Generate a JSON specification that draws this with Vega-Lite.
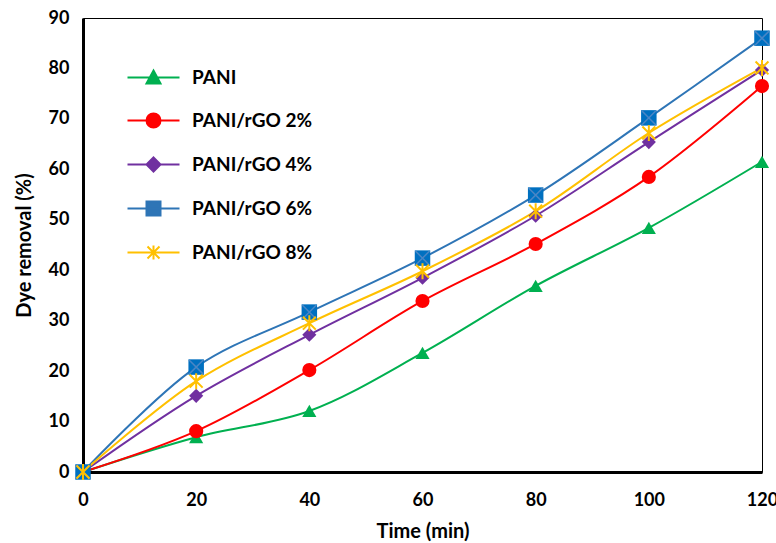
{
  "$schema": "https://vega.github.io/schema/vega-lite/v6.json",
  "width": 679,
  "height": 454,
  "autosize": {"type": "none"},
  "padding": {"left": 83, "top": 18, "right": 14, "bottom": 71},
  "background": "white",
  "config": {
    "view": {"stroke": "black", "strokeWidth": 1},
    "font": "Lato",
    "axis": {"grid": false, "ticks": false, "labelFlush": false, "domainColor": "black", "domainWidth": 3, "labelFont": "Lato", "labelFontWeight": "bold", "labelFontSize": 18, "labelColor": "black", "titleFont": "Lato", "titleFontWeight": "bold", "titleFontSize": 20, "titleColor": "black"},
    "legend": {"orient": "none", "legendX": 61, "legendY": 50, "symbolSize": 4, "symbolStrokeWidth": 2, "symbolOpacity": 1, "labelOffset": 29, "rowPadding": 21, "labelFont": "Lato", "labelFontSize": 19, "labelFontWeight": "bold", "labelColor": "black"}
  },
  "data": {"values": [
    {"t": 0, "s": "PANI", "v": 0}, {"t": 20, "s": "PANI", "v": 6.9}, {"t": 40, "s": "PANI", "v": 12.1}, {"t": 60, "s": "PANI", "v": 23.6}, {"t": 80, "s": "PANI", "v": 36.9}, {"t": 100, "s": "PANI", "v": 48.4}, {"t": 120, "s": "PANI", "v": 61.5},
    {"t": 0, "s": "PANI/rGO 2%", "v": 0}, {"t": 20, "s": "PANI/rGO 2%", "v": 8.1}, {"t": 40, "s": "PANI/rGO 2%", "v": 20.2}, {"t": 60, "s": "PANI/rGO 2%", "v": 33.9}, {"t": 80, "s": "PANI/rGO 2%", "v": 45.2}, {"t": 100, "s": "PANI/rGO 2%", "v": 58.5}, {"t": 120, "s": "PANI/rGO 2%", "v": 76.5},
    {"t": 0, "s": "PANI/rGO 4%", "v": 0}, {"t": 20, "s": "PANI/rGO 4%", "v": 15.1}, {"t": 40, "s": "PANI/rGO 4%", "v": 27.2}, {"t": 60, "s": "PANI/rGO 4%", "v": 38.5}, {"t": 80, "s": "PANI/rGO 4%", "v": 50.8}, {"t": 100, "s": "PANI/rGO 4%", "v": 65.4}, {"t": 120, "s": "PANI/rGO 4%", "v": 79.7},
    {"t": 0, "s": "PANI/rGO 6%", "v": 0}, {"t": 20, "s": "PANI/rGO 6%", "v": 20.8}, {"t": 40, "s": "PANI/rGO 6%", "v": 31.7}, {"t": 60, "s": "PANI/rGO 6%", "v": 42.4}, {"t": 80, "s": "PANI/rGO 6%", "v": 54.9}, {"t": 100, "s": "PANI/rGO 6%", "v": 70.2}, {"t": 120, "s": "PANI/rGO 6%", "v": 86.0},
    {"t": 0, "s": "PANI/rGO 8%", "v": 0}, {"t": 20, "s": "PANI/rGO 8%", "v": 18.0}, {"t": 40, "s": "PANI/rGO 8%", "v": 29.5}, {"t": 60, "s": "PANI/rGO 8%", "v": 39.8}, {"t": 80, "s": "PANI/rGO 8%", "v": 51.7}, {"t": 100, "s": "PANI/rGO 8%", "v": 67.2}, {"t": 120, "s": "PANI/rGO 8%", "v": 80.1}
  ]},
  "encoding": {
    "x": {"field": "t", "type": "quantitative", "scale": {"domain": [0, 120]}, "axis": {"values": [0, 20, 40, 60, 80, 100, 120], "title": "Time (min)", "labelPadding": 19, "titlePadding": 12}},
    "y": {"field": "v", "type": "quantitative", "scale": {"domain": [0, 90]}, "axis": {"values": [0, 10, 20, 30, 40, 50, 60, 70, 80, 90], "title": "Dye removal (%)", "labelPadding": 14, "titlePadding": 14}}
  },
  "layer": [
    {
      "mark": {"type": "line", "interpolate": "catmull-rom"},
      "encoding": {
        "color": {"field": "s", "type": "nominal", "title": null, "scale": {"domain": ["PANI", "PANI/rGO 2%", "PANI/rGO 4%", "PANI/rGO 6%", "PANI/rGO 8%"], "range": ["#00B050", "#FF0000", "#7030A0", "#2E75B6", "#FFC000"]}},
        "strokeWidth": {"field": "s", "type": "nominal", "scale": {"range": [2, 2, 2.5, 2, 3]}, "legend": null}
      }
    },
    {
      "transform": [{"filter": "datum.s == 'PANI'"}],
      "mark": {"type": "point", "shape": "triangle-up", "filled": true, "opacity": 1, "size": 200, "color": "#00B050"}
    },
    {
      "transform": [{"filter": "datum.s == 'PANI/rGO 2%'"}],
      "mark": {"type": "point", "shape": "circle", "filled": true, "opacity": 1, "size": 200, "color": "#FF0000"}
    },
    {
      "transform": [{"filter": "datum.s == 'PANI/rGO 4%'"}],
      "mark": {"type": "point", "shape": "diamond", "filled": true, "opacity": 1, "size": 200, "color": "#7030A0"}
    },
    {
      "transform": [{"filter": "datum.s == 'PANI/rGO 6%'"}],
      "mark": {"type": "point", "shape": "square", "filled": true, "opacity": 1, "size": 240, "color": "#0070C0"}
    },
    {
      "transform": [{"filter": "datum.s == 'PANI/rGO 6%'"}],
      "mark": {"type": "point", "shape": "M-1,-1L1,1M-1,1L1,-1", "filled": false, "opacity": 1, "size": 200, "color": "#4A86C5", "strokeWidth": 1.5}
    },
    {
      "transform": [{"filter": "datum.s == 'PANI/rGO 8%'"}],
      "mark": {"type": "point", "shape": "M0,-1L0,1M-0.8,-0.8L0.8,0.8M-0.8,0.8L0.8,-0.8", "filled": false, "opacity": 1, "size": 260, "color": "#FFC000", "strokeWidth": 2}
    },
    {
      "mark": {"type": "point", "filled": true, "opacity": 0},
      "encoding": {
        "color": {"field": "s", "type": "nominal", "title": null},
        "shape": {"field": "s", "type": "nominal", "title": null,
          "scale": {"domain": ["PANI", "PANI/rGO 2%", "PANI/rGO 4%", "PANI/rGO 6%", "PANI/rGO 8%"],
            "range": ["M-26,0L26,0M0,-7L7,6L-7,6Z", "M-26,0L26,0M-7,0A7,7 0 1,0 7,0A7,7 0 1,0 -7,0Z", "M-26,0L26,0M0,-7L7,0L0,7L-7,0Z", "M-26,0L26,0M-7,-7L7,-7L7,7L-7,7Z", "M-26,0L26,0M0,-7L0,7M-6,-6L6,6M-6,6L6,-6"]}
        }
      }
    }
  ]
}
